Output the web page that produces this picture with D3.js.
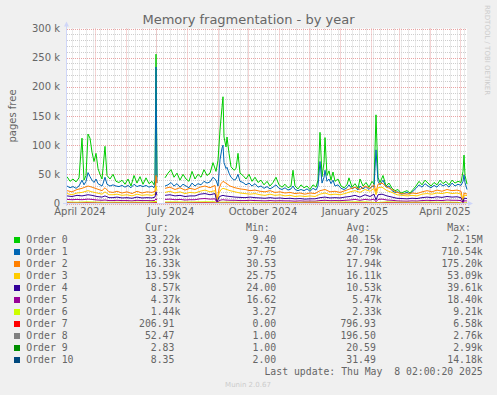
<!DOCTYPE html>
<html>
<head>
<meta charset="utf-8">
<script src="https://cdn.jsdelivr.net/npm/d3@7"></script>
<style>
  body { margin: 0; background: #f0f0f0; }
  svg { display: block; }
</style>
</head>
<body>
<div id="chart"></div>
<script>
// day offsets from 2024-04-03 (start of the 400 day window)
const days = [
  0,3,6,9,12,15,17,19,21,23,
  25,27,29,31,33,35,36,38,40,43,
  46,49,52,55,58,61,64,67,70,73,
  76,79,82,85,87,88,89,90,94,98,
  101,104,107,110,113,116,119,122,125,128,
  131,134,137,140,143,146,149,151,153,155,
  156,157,159,160,162,164,167,169,171,173,
  176,179,182,185,188,191,194,197,200,203,
  206,209,212,215,218,221,224,226,228,231,
  234,237,240,243,246,249,251,253,255,257,
  258,260,262,264,266,268,271,274,277,280,
  282,285,288,291,293,296,299,302,305,307,
  309,311,313,316,319,322,325,328,331,334,
  337,340,343,346,349,352,355,358,361,364,
  367,370,373,376,379,382,385,388,391,394,
  396,397,398,400
];
const daysMid = [
  0,5,10,15,21,25,30,35,38,42,
  46,50,55,60,65,70,75,80,85,88,
  89,90,94,98,103,108,113,118,123,128,
  133,138,143,148,150,152,154,156,158,163,
  168,173,178,183,188,193,198,203,208,213,
  218,223,228,233,238,243,248,253,258,263,
  268,273,278,283,288,293,298,303,307,309,
  311,315,320,325,330,335,340,345,350,355,
  360,365,370,375,380,385,390,394,396,397,
  398,400
];
const daysCoarse = [
  0,10,20,30,40,50,60,70,80,89,
  90,94,98,108,118,128,138,148,150,152,
  160,170,180,190,200,210,220,230,240,250,
  260,270,280,290,300,309,320,330,340,350,
  360,370,380,390,396,400
];

// pages free, in thousands
const order0 = [
  46,38,42,37,44,112,40,48,119,112,
  88,72,86,60,50,42,60,98,48,42,
  50,38,36,40,33,42,30,48,35,46,
  33,44,34,38,32,40,256,45,null,44,
  52,58,45,52,40,50,42,38,55,42,
  50,45,58,48,52,70,55,74,126,165,
  183,114,97,114,86,63,57,60,86,52,
  48,42,50,38,45,36,40,32,38,30,
  36,45,32,28,33,27,30,57,30,25,
  32,27,30,24,32,28,40,122,46,70,
  113,48,56,40,54,38,42,30,27,32,
  44,28,34,26,42,30,36,28,38,33,
  152,45,36,48,30,35,26,22,24,18,
  20,22,18,24,30,38,32,40,35,30,
  36,32,40,34,38,32,40,35,38,36,
  55,83,48,33.22
];
const order1 = [
  30,27,29,26,30,40,32,38,53,46,
  40,36,42,34,32,30,34,45,33,30,
  32,30,29,31,28,31,27,33,29,31,
  29,31,28,30,27,32,234,35,null,30,
  32,36,30,34,28,33,30,27,35,30,
  34,32,38,35,37,45,40,30,75,95,
  100,70,60,62,52,45,40,42,50,38,
  36,32,35,30,34,28,30,26,29,25,
  28,32,26,24,27,23,25,30,24,22,
  24,22,25,21,26,23,30,72,35,45,
  57,38,42,34,40,30,32,26,24,27,
  32,25,28,23,30,25,29,24,30,28,
  92,38,32,40,28,30,22,19,20,16,
  17,19,16,21,26,32,28,34,30,27,
  31,28,34,30,33,28,35,30,33,31,
  38,49,36,23.93
];
const order2 = [
  22,20,24,26,30,28,25,22,27,20,
  19,21,18,20,17,21,18,20,19,21,
  48,35,null,26,28,24,27,23,26,24,
  28,30,27,31,4,25,34,38,36,30,
  27,25,24,22,23,21,20,22,19,20,
  18,19,17,18,16,18,17,22,24,20,
  21,19,22,25,28,24,30,26,32,20,
  33,35,28,24,19,17,16,18,17,20,
  22,20,23,21,24,22,23,21,3,18,
  17,16.33
];
const order3 = [
  17,15,18,19,22,20,18,16,20,15,
  15,16,14,15,13,16,14,15,14,16,
  30,22,null,19,21,18,20,17,19,18,
  21,23,20,22,3,18,24,26,25,22,
  20,18,17,16,17,15,14,16,14,15,
  13,14,12,13,12,13,12,16,18,15,
  16,15,17,20,22,19,24,21,26,15,
  27,28,22,19,15,14,13,14,13,16,
  17,16,18,17,19,17,18,16,2,14,
  14,13.59
];
const order4 = [
  13,12,14,13,15,14,12,11,13,10,
  10,11,9.5,10,9,11,9.5,10,9.5,11,
  20,14,null,14,15,13,14,12,13,13,
  16,17,15,17,2,11,13,14,13,12,
  11,10.5,10,11,10,9.5,9,10,9,9.5,
  8.5,9,8,8.5,7.5,8,8,10,11,9.5,
  10,9.5,11,12,14,11,15,12,16,6,
  15,16,13,11,9,8.5,8,9,8.5,10,
  11,10,11.5,10.5,12,11,11.5,10,1.5,9,
  9,8.57
];
const order5 = [
  7,6.5,7,6.5,7.5,7,6,5.5,6,5,
  5,5.5,5,5,4.5,5.5,5,5,4.8,5.5,
  8,6,null,7,7.5,6.5,7,6,6.5,6.5,
  8,8.5,7.5,8,1,5,6,6.5,6,5.5,
  5.5,5,5,5.5,5,4.8,4.5,5,4.5,4.8,
  4.5,4.5,4,4.5,4,4.2,4,5,5.5,4.8,
  5,4.8,5.5,6,7,5.5,7,6,7.5,3,
  7,7.5,6,5.5,4.5,4.2,4,4.5,4.2,5,
  5.5,5,5.5,5,6,5.5,5.5,5,1,4.5,
  4.5,4.37
];
const order6 = [
  2.5,2.2,2.8,2.4,2.0,2.3,2.1,2.4,2.2,3.5,
  2.5,null,2.6,2.8,2.5,2.7,2.9,3.0,0.5,2.2,
  2.4,2.2,2.1,2.0,1.9,2.0,1.8,1.9,2.2,2.4,
  2.3,2.5,2.6,2.8,2.7,1.5,2.8,2.4,2.0,2.2,
  2.4,2.2,2.3,2.1,0.4,1.44
];
const order7 = [
  0.9,0.6,1.1,0.7,0.5,0.8,0.6,0.9,0.7,1.4,
  1.0,null,0.9,1.0,0.8,1.1,1.2,1.0,0.1,0.6,
  0.8,0.7,0.6,0.5,0.6,0.7,0.5,0.6,0.8,0.9,
  0.7,0.8,0.9,1.1,1.0,0.4,1.2,0.9,0.6,0.7,
  0.8,0.6,0.7,0.6,0.1,0.207
];
const order8 = [
  0.25,0.2,0.22,0.18,0.2,0.19,0.2,0.21,0.2,0.3,
  0.22,null,0.2,0.21,0.19,0.2,0.22,0.21,0.05,0.18,
  0.2,0.19,0.18,0.17,0.18,0.19,0.17,0.18,0.2,0.21,
  0.2,0.21,0.22,0.24,0.22,0.1,0.23,0.2,0.17,0.18,
  0.19,0.18,0.19,0.18,0.04,0.052
];
const order9 = [
  0.02,0.02,0.03,0.02,0.02,0.02,0.01,0.02,0.02,0.03,
  0.02,null,0.02,0.02,0.02,0.03,0.02,0.02,0.01,0.02,
  0.02,0.02,0.01,0.02,0.02,0.02,0.01,0.02,0.02,0.02,
  0.02,0.02,0.03,0.02,0.02,0.01,0.02,0.02,0.02,0.02,
  0.02,0.02,0.02,0.02,0.01,0.003
];
const order10 = [
  0.03,0.03,0.04,0.03,0.03,0.03,0.02,0.03,0.03,0.05,
  0.03,null,0.03,0.03,0.03,0.04,0.03,0.03,0.01,0.03,
  0.03,0.03,0.02,0.03,0.03,0.03,0.02,0.03,0.03,0.03,
  0.03,0.03,0.04,0.03,0.03,0.02,0.03,0.03,0.03,0.03,
  0.03,0.03,0.03,0.03,0.01,0.008
];

const names = ["Order 0","Order 1","Order 2","Order 3","Order 4","Order 5",
               "Order 6","Order 7","Order 8","Order 9","Order 10"];
const colors = ["#00CC00","#0066B3","#FF8000","#FFCC00","#330099","#990099",
                "#CCFF00","#FF0000","#808080","#008F00","#00487D"];
const curVals = ["33.22k","23.93k","16.33k","13.59k","8.57k","4.37k","1.44k","206.91","52.47","2.83","8.35"];
const minVals = ["9.40","37.75","30.53","25.75","24.00","16.62","3.27","0.00","1.00","1.00","2.00"];
const avgVals = ["40.15k","27.79k","17.94k","16.11k","10.53k","5.47k","2.33k","796.93","196.50","20.59","31.49"];
const maxVals = ["2.15M","710.54k","175.20k","53.09k","39.61k","18.40k","9.21k","6.58k","2.76k","2.99k","14.18k"];

const yTicks = [0, 50, 100, 150, 200, 250, 300];
const xLabels = ["April 2024","July 2024","October 2024","January 2025","April 2025"];
const xLabelMonths = ["2024-04-01","2024-07-01","2024-10-01","2025-01-01","2025-04-01"];

const seriesDays = [days, days, daysMid, daysMid, daysMid, daysMid,
                    daysCoarse, daysCoarse, daysCoarse, daysCoarse, daysCoarse];
const seriesVals = [order0, order1, order2, order3, order4, order5,
                    order6, order7, order8, order9, order10];

const width = 497, height = 395;
const start = new Date(Date.UTC(2024, 3, 3));
const end = new Date(Date.UTC(2025, 4, 8));
const x = d3.scaleUtc([start, end], [67, 467]);
const y = d3.scaleLinear([0, 300], [203.5, 28.5]);
const fontColor = "#666";
const sans = "'DejaVu Sans', sans-serif";
const mono = "'DejaVu Sans Mono', monospace";

const svg = d3.select("#chart").append("svg")
    .attr("width", width)
    .attr("height", height)
    .attr("viewBox", [0, 0, width, height]);

svg.append("rect").attr("width", width).attr("height", height).attr("fill", "#f0f0f0");

// canvas
svg.append("rect")
    .attr("x", 67).attr("y", 28.5)
    .attr("width", 400).attr("height", 175)
    .attr("fill", "#fff");

// minor grid
const grid = svg.append("g").attr("stroke-width", 1).attr("stroke-dasharray", "1,1");
const minorY = d3.range(10, 300, 10).filter(v => v % 50 !== 0);
grid.selectAll(".hmin").data(minorY).join("line")
    .attr("x1", 67).attr("x2", 467)
    .attr("y1", d => Math.round(y(d)) + 0.5).attr("y2", d => Math.round(y(d)) + 0.5)
    .attr("stroke", "#cdcdcd");
grid.selectAll(".vmin").data(d3.utcMonday.range(start, end)).join("line")
    .attr("x1", d => Math.round(x(d)) + 0.5).attr("x2", d => Math.round(x(d)) + 0.5)
    .attr("y1", 28.5).attr("y2", 203.5)
    .attr("stroke", "#d4d4d4");
// major grid
grid.selectAll(".hmaj").data(yTicks).join("line")
    .attr("x1", 67).attr("x2", 467)
    .attr("y1", d => Math.round(y(d)) + 0.5).attr("y2", d => Math.round(y(d)) + 0.5)
    .attr("stroke", "#e9a3a3");
grid.selectAll(".vmaj").data(d3.utcMonth.range(d3.utcMonth.ceil(start), end)).join("line")
    .attr("x1", d => Math.round(x(d)) + 0.5).attr("x2", d => Math.round(x(d)) + 0.5)
    .attr("y1", 28.5).attr("y2", 203.5)
    .attr("stroke", "#eaaaaa");

// data lines
const line = d3.line()
    .defined(d => d[1] != null)
    .x(d => x(d3.utcDay.offset(start, d[0])))
    .y(d => y(d[1]));

svg.append("g")
    .attr("fill", "none")
    .attr("stroke-width", 1)
    .selectAll("path")
    .data(seriesVals.map((vals, i) => ({i, pts: vals.map((v, j) => [seriesDays[i][j], v])})))
    .join("path")
        .attr("stroke", d => colors[d.i])
        .attr("d", d => line(d.pts));

// axes
const axisColor = "#CFD6F8";
svg.append("line").attr("x1", 66.5).attr("x2", 66.5).attr("y1", 206).attr("y2", 24)
    .attr("stroke", axisColor);
svg.append("path").attr("d", "M64,26.5L66.5,21.5L69,26.5Z").attr("fill", axisColor);
svg.append("line").attr("x1", 63).attr("x2", 469).attr("y1", 203.5).attr("y2", 203.5)
    .attr("stroke", axisColor);
svg.append("path").attr("d", "M468,201L473,203.5L468,206Z").attr("fill", axisColor);

// y tick labels
svg.append("g").selectAll("text").data(yTicks).join("text")
    .attr("x", 60).attr("y", d => y(d) + 3.5)
    .attr("text-anchor", "end")
    .attr("font-family", sans).attr("font-size", 10).attr("fill", fontColor)
    .text(d => d === 0 ? "0" : `${d} k`);

// x labels (centred half a month after the tick)
svg.append("g").selectAll("text").data(xLabels).join("text")
    .attr("x", (d, i) => x(d3.utcDay.offset(new Date(xLabelMonths[i]), 15)))
    .attr("y", 214.5)
    .attr("text-anchor", "middle")
    .attr("font-family", sans).attr("font-size", 10).attr("fill", fontColor)
    .text(d => d);

// title + y title
svg.append("text").attr("x", 248.5).attr("y", 24)
    .attr("text-anchor", "middle")
    .attr("font-family", sans).attr("font-size", 13).attr("fill", fontColor)
    .text("Memory fragmentation - by year");
svg.append("text")
    .attr("transform", "translate(15.5,116) rotate(-90)")
    .attr("text-anchor", "middle")
    .attr("font-family", sans).attr("font-size", 10).attr("fill", fontColor)
    .text("pages free");

// watermark
svg.append("text")
    .attr("transform", "translate(485,5) rotate(90)")
    .attr("font-family", sans).attr("font-size", 7).attr("fill", "#ccc")
    .text("RRDTOOL / TOBI OETIKER");

// legend
const cw = 5.9;
const legend = svg.append("g").attr("font-family", mono).attr("font-size", 9.8).attr("fill", fontColor);
const headers = [["Cur:", 168.6], ["Min:", 269.6], ["Avg:", 370.3], ["Max:", 470.9]];
legend.selectAll(".hdr").data(headers).join("text")
    .attr("x", d => d[1]).attr("y", 231.3)
    .attr("text-anchor", "end")
    .text(d => d[0]);

const cols = [[curVals, 180.3], [minVals, 282], [avgVals, 381.7], [maxVals, 482.7]];
const rowY = i => 243.3 + i * 12;
names.forEach((name, i) => {
  legend.append("rect")
      .attr("x", 14).attr("y", rowY(i) - 6.3)
      .attr("width", 6).attr("height", 6)
      .attr("fill", colors[i]);
  legend.append("text").attr("x", 26.3).attr("y", rowY(i)).text(name);
  cols.forEach(([vals, right]) => {
    const s = vals[i];
    const hasSuffix = /[kM]$/.test(s);
    legend.append("text")
        .attr("x", hasSuffix ? right : right - cw)
        .attr("y", rowY(i))
        .attr("text-anchor", "end")
        .text(s);
  });
});

legend.append("text")
    .attr("x", 482.7).attr("y", 374.8)
    .attr("text-anchor", "end")
    .attr("xml:space", "preserve")
    .style("white-space", "pre")
    .text("Last update: Thu May  8 02:00:20 2025");

svg.append("text").attr("x", 248).attr("y", 387)
    .attr("text-anchor", "middle")
    .attr("font-family", sans).attr("font-size", 7).attr("fill", "#ccc")
    .text("Munin 2.0.67");
</script>
</body>
</html>
